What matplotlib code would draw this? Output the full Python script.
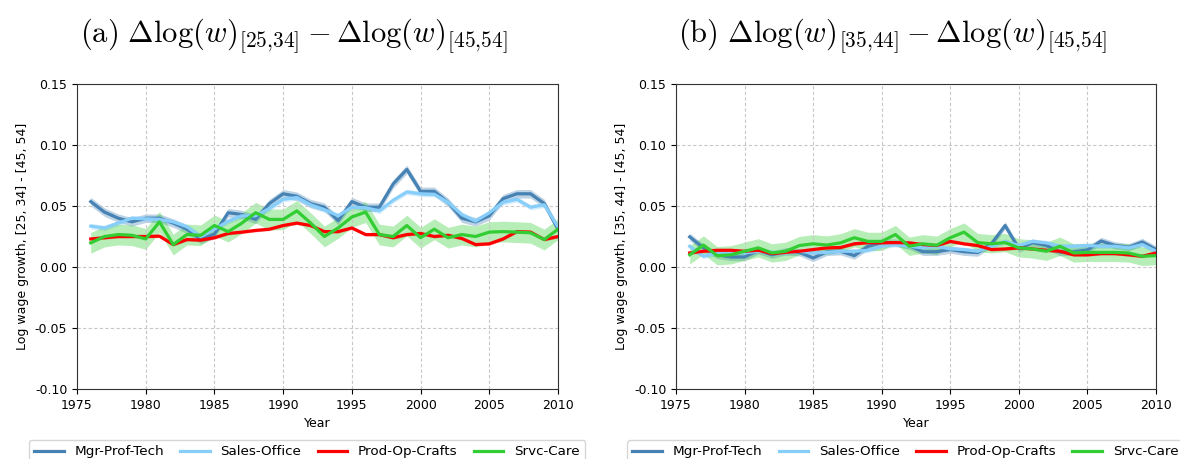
import numpy as np
import matplotlib
matplotlib.use("Agg")
import matplotlib.pyplot as plt

plt.rcParams["mathtext.fontset"] = "cm"

years = list(range(1976, 2011))
labels = ["Mgr-Prof-Tech", "Sales-Office", "Prod-Op-Crafts", "Srvc-Care"]
colors = ["steelblue", "lightskyblue", "red", "limegreen"]

# panel (a): [25,34] - [45,54]
a_mgr = [0.0536, 0.045, 0.040, 0.037, 0.040, 0.040, 0.036, 0.031, 0.0225, 0.027,
         0.0445, 0.043, 0.039, 0.052, 0.060, 0.058, 0.052, 0.049, 0.038, 0.0536,
         0.049, 0.049, 0.068, 0.080, 0.062, 0.062, 0.053, 0.040, 0.037, 0.042,
         0.056, 0.060, 0.060, 0.052, 0.031]
a_sales = [0.0335, 0.032, 0.036, 0.040, 0.0395, 0.039, 0.037, 0.033, 0.025, 0.031,
           0.0375, 0.042, 0.042, 0.048, 0.0555, 0.057, 0.051, 0.047, 0.042, 0.049,
           0.0486, 0.046, 0.0547, 0.0615, 0.060, 0.0596, 0.053, 0.043, 0.0376, 0.0445,
           0.053, 0.0555, 0.049, 0.051, 0.033]
a_prod = [0.023, 0.024, 0.025, 0.025, 0.025, 0.0253, 0.0184, 0.0225, 0.022, 0.024,
          0.0275, 0.0286, 0.030, 0.031, 0.034, 0.036, 0.034, 0.029, 0.029, 0.032,
          0.0266, 0.0266, 0.024, 0.0266, 0.0275, 0.025, 0.026, 0.0234, 0.0184, 0.019,
          0.023, 0.029, 0.0286, 0.0225, 0.025]
a_srvc = [0.0198, 0.025, 0.0266, 0.026, 0.023, 0.037, 0.0184, 0.0266, 0.026, 0.034,
          0.029, 0.036, 0.0445, 0.039, 0.039, 0.046, 0.036, 0.025, 0.032, 0.041,
          0.045, 0.0266, 0.025, 0.034, 0.024, 0.031, 0.024, 0.0266, 0.025, 0.0286,
          0.029, 0.0286, 0.028, 0.0225, 0.031]
a_band = [0.0035, 0.0022, 0.0012, 0.0085]

# panel (b): [35,44] - [45,54]
b_mgr = [0.0247, 0.0157, 0.010, 0.0082, 0.0082, 0.0137, 0.010, 0.0129, 0.012, 0.0074,
         0.0124, 0.0129, 0.0093, 0.017, 0.020, 0.020, 0.0176, 0.0125, 0.0125, 0.0143,
         0.0125, 0.0118, 0.019, 0.034, 0.015, 0.020, 0.0177, 0.0122, 0.0125, 0.014,
         0.0213, 0.0177, 0.0162, 0.0205, 0.0143]
b_sales = [0.017, 0.0088, 0.0115, 0.012, 0.0115, 0.0129, 0.012, 0.0115, 0.0129, 0.0115,
           0.012, 0.0129, 0.0129, 0.0137, 0.017, 0.0184, 0.017, 0.0157, 0.017, 0.0148,
           0.0143, 0.0129, 0.017, 0.021, 0.0176, 0.021, 0.0198, 0.017, 0.017, 0.0176,
           0.017, 0.017, 0.0157, 0.0184, 0.0129]
b_prod = [0.0115, 0.0129, 0.0137, 0.0137, 0.0129, 0.0137, 0.011, 0.012, 0.0129, 0.0143,
          0.0157, 0.016, 0.019, 0.020, 0.0198, 0.020, 0.0198, 0.0184, 0.0176, 0.021,
          0.019, 0.0176, 0.0143, 0.0148, 0.0157, 0.0148, 0.0137, 0.0129, 0.010, 0.010,
          0.011, 0.011, 0.010, 0.0088, 0.0115]
b_srvc = [0.010, 0.018, 0.0093, 0.010, 0.0129, 0.0157, 0.0115, 0.0129, 0.0176, 0.019,
          0.018, 0.0198, 0.024, 0.021, 0.021, 0.0266, 0.017, 0.019, 0.0178, 0.024,
          0.0286, 0.020, 0.019, 0.020, 0.0157, 0.0148, 0.0129, 0.017, 0.0115, 0.012,
          0.012, 0.012, 0.0115, 0.0088, 0.0093]
b_band = [0.003, 0.002, 0.0012, 0.0075]

titles = [r"$\mathrm{(a)}\ \Delta\log(w)_{[25{,}34]} - \Delta\log(w)_{[45{,}54]}$",
          r"$\mathrm{(b)}\ \Delta\log(w)_{[35{,}44]} - \Delta\log(w)_{[45{,}54]}$"]
ylabels = ["Log wage growth, [25, 34] - [45, 54]",
           "Log wage growth, [35, 44] - [45, 54]"]

fig = plt.figure(figsize=(11.8, 4.59), dpi=100)
W, H = 1180, 459
ax_a = fig.add_axes([77 / W, (H - 389) / H, 481 / W, 305 / H])
ax_b = fig.add_axes([676 / W, (H - 389) / H, 480 / W, 305 / H])

panels = [
    (ax_a, [a_mgr, a_sales, a_prod, a_srvc], a_band),
    (ax_b, [b_mgr, b_sales, b_prod, b_srvc], b_band),
]

x = np.array(years)
for i, (ax, series, band) in enumerate(panels):
    for s, lab, c, hw in zip(series, labels, colors, band):
        y = np.array(s)
        ax.fill_between(x, y - hw, y + hw, color=c, alpha=0.35, linewidth=0)
        ax.plot(x, y, color=c, lw=2.3, label=lab)
    ax.set_xlim(1975, 2010)
    ax.set_ylim(-0.10, 0.15)
    ax.set_xticks(range(1975, 2011, 5))
    ax.set_yticks(np.arange(-0.10, 0.151, 0.05))
    ax.yaxis.set_major_formatter(matplotlib.ticker.FormatStrFormatter("%.2f"))
    ax.grid(True, linestyle=(0, (3, 2)), color="#c8c8c8", linewidth=0.8)
    ax.tick_params(labelsize=9)
    for sp in ax.spines.values():
        sp.set_color("#333333")
    ax.set_xlabel("Year", fontsize=9)
    ax.set_ylabel(ylabels[i], fontsize=9)
    ax.legend(loc="upper center", bbox_to_anchor=(0.478, -0.167), ncol=4,
              fontsize=9.7, frameon=True, handlelength=2.2, columnspacing=1.2,
              borderaxespad=0)

fig.text(294 / W, 1 - 36 / H, titles[0], ha="center", va="center", fontsize=22)
fig.text(893 / W, 1 - 36 / H, titles[1], ha="center", va="center", fontsize=22)

fig.savefig("out.png", dpi=100)
